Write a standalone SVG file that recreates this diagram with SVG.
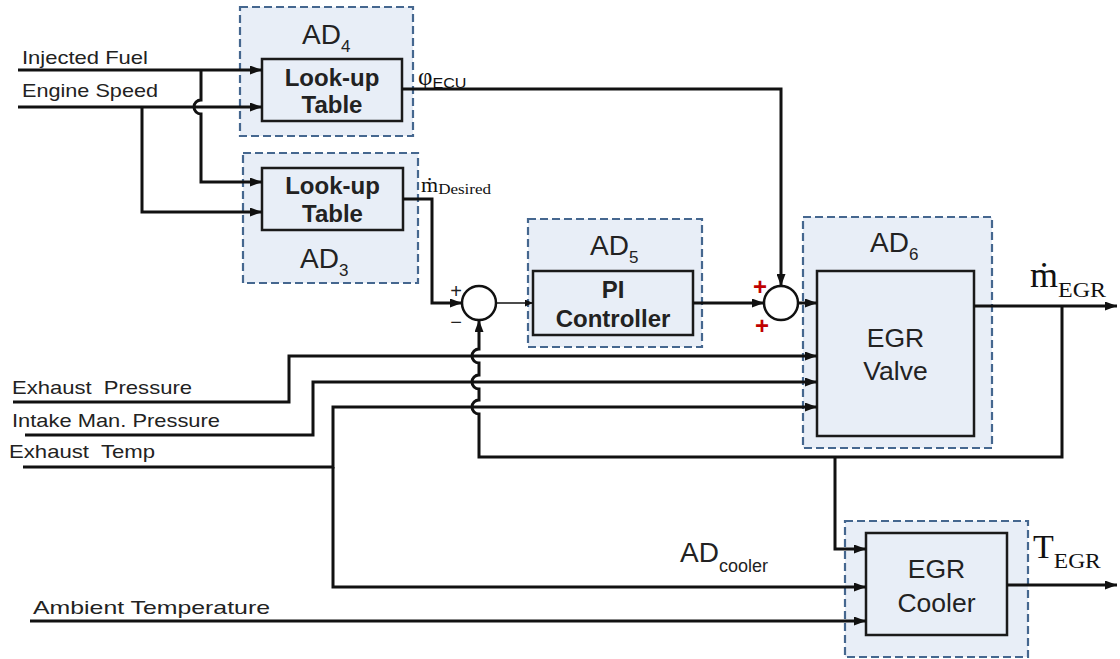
<svg xmlns="http://www.w3.org/2000/svg" width="1120" height="659" viewBox="0 0 1120 659">
<defs>
<marker id="arr" markerWidth="12" markerHeight="9" refX="12" refY="4.5" orient="auto" markerUnits="userSpaceOnUse"><path d="M0,0 L12,4.5 L0,9 z" fill="#111"/></marker>
<marker id="arrs" markerWidth="8" markerHeight="7" refX="8" refY="3.5" orient="auto" markerUnits="userSpaceOnUse"><path d="M0,0 L8,3.5 L0,7 z" fill="#111"/></marker>
</defs>
<style>
.grp{fill:#e8eef7;stroke:#45678f;stroke-width:2.2;stroke-dasharray:8 4}
.blk{fill:#e8eef7;stroke:#1a1a1a;stroke-width:2.5}
.sum{fill:#fff;stroke:#111;stroke-width:2.5}
.w{fill:none;stroke:#111;stroke-width:3;marker-end:url(#arr)}
.thin{fill:none;stroke:#111;stroke-width:1.6;marker-end:url(#arrs)}
.lbl{font-family:"Liberation Sans",Arial,sans-serif;font-size:19px;fill:#222}
.bold{font-family:"Liberation Sans",Arial,sans-serif;font-size:24px;font-weight:bold;fill:#222;text-anchor:middle}
.big{font-family:"Liberation Sans",Arial,sans-serif;font-size:26.5px;fill:#222;text-anchor:middle}
.ad{font-family:"Liberation Sans",Arial,sans-serif;font-size:28px;fill:#222}
.sub{font-size:17px}
.ser{font-family:"Liberation Serif","DejaVu Serif",serif;fill:#111}
.sans{font-family:"Liberation Sans",Arial,sans-serif;fill:#111}
.sign{font-family:"Liberation Sans",Arial,sans-serif;font-size:20px;fill:#222;text-anchor:middle}
.red{font-family:"Liberation Sans",Arial,sans-serif;font-size:24px;font-weight:bold;fill:#c00000;text-anchor:middle}
</style>

<g id="inputs">
<text class="lbl" x="22" y="64" textLength="126" lengthAdjust="spacingAndGlyphs">Injected Fuel</text>
<text class="lbl" x="22" y="97" textLength="136" lengthAdjust="spacingAndGlyphs">Engine Speed</text>
<text class="lbl" x="12" y="394" textLength="180" lengthAdjust="spacingAndGlyphs" xml:space="preserve">Exhaust  Pressure</text>
<text class="lbl" x="12" y="427" textLength="208" lengthAdjust="spacingAndGlyphs">Intake Man. Pressure</text>
<text class="lbl" x="9" y="458" textLength="146" lengthAdjust="spacingAndGlyphs" xml:space="preserve">Exhaust  Temp</text>
<text class="lbl" x="33" y="614" textLength="237" lengthAdjust="spacingAndGlyphs">Ambient Temperature</text>
</g>

<g id="ad4">
<rect class="grp" x="240" y="7" width="173" height="129"/>
<text class="ad" x="302" y="44">AD<tspan class="sub" y="52">4</tspan></text>
<rect class="blk" x="262" y="59" width="140" height="62"/>
<text class="bold" x="332" y="86">Look-up</text>
<text class="bold" x="332" y="113">Table</text>
</g>

<g id="ad3">
<rect class="grp" x="243" y="153" width="175" height="130"/>
<rect class="blk" x="262" y="168" width="141" height="62"/>
<text class="bold" x="332.5" y="194">Look-up</text>
<text class="bold" x="332.5" y="222">Table</text>
<text class="ad" x="300" y="268">AD<tspan class="sub" y="276">3</tspan></text>
</g>

<g id="sum1">
<circle class="sum" cx="479" cy="303" r="17"/>
<text class="sign" x="456" y="298">+</text>
<text class="sign" x="456" y="329">−</text>
</g>

<g id="ad5">
<rect class="grp" x="528" y="219" width="174" height="128"/>
<text class="ad" x="590" y="255">AD<tspan class="sub" y="263">5</tspan></text>
<rect class="blk" x="533" y="271" width="160" height="64"/>
<text class="bold" x="613" y="298">PI</text>
<text class="bold" x="613" y="327">Controller</text>
</g>

<g id="sum2">
<circle class="sum" cx="781" cy="303" r="17"/>
<text class="red" x="760" y="295">+</text>
<text class="red" x="762" y="334">+</text>
</g>

<g id="ad6">
<rect class="grp" x="803" y="217" width="189" height="231"/>
<text class="ad" x="870" y="252">AD<tspan class="sub" y="260">6</tspan></text>
<rect class="blk" x="817" y="271" width="157" height="165"/>
<text class="big" x="895.5" y="347">EGR</text>
<text class="big" x="895.5" y="380">Valve</text>
</g>

<g id="cooler">
<rect class="grp" x="845" y="521" width="183" height="136"/>
<rect class="blk" x="866" y="533" width="141" height="102"/>
<text class="big" x="936.5" y="578">EGR</text>
<text class="big" x="936.5" y="612">Cooler</text>
<text class="ad" x="680" y="562">AD<tspan class="sub" style="font-size:18px" y="572">cooler</tspan></text>
</g>

<g id="signals">
<text x="418" y="85"><tspan class="ser" font-size="25">φ</tspan><tspan class="sans" font-size="14" y="88" textLength="34" lengthAdjust="spacingAndGlyphs">ECU</tspan></text>
<text x="421" y="192"><tspan class="ser" font-size="22">ṁ</tspan><tspan class="ser" font-size="14" y="194" textLength="53" lengthAdjust="spacingAndGlyphs">Desired</tspan></text>
<text x="1030" y="287"><tspan class="ser" font-size="36">ṁ</tspan><tspan class="ser" font-size="22" y="297" textLength="48" lengthAdjust="spacingAndGlyphs">EGR</tspan></text>
<text x="1033" y="558"><tspan class="ser" font-size="34">T</tspan><tspan class="ser" font-size="22" y="568" textLength="47" lengthAdjust="spacingAndGlyphs">EGR</tspan></text>
</g>

<g id="connectors">
<path class="w" d="M18,70 H262"/>
<path class="w" d="M201,70 V100 a7,7 0 0 0 0,14 V182 H262"/>
<path class="w" d="M18,107 H262"/>
<path class="w" d="M142,107 V212 H262"/>
<path class="w" d="M402,89 H781 V286"/>
<path class="w" d="M403,199 H432 V303 H462"/>
<path class="thin" d="M496,303 H533"/>
<path class="w" d="M693,303 H764"/>
<path class="w" d="M798,303 H817"/>
<path class="w" d="M974,306 H1117"/>
<path class="w" d="M1062,306 V457 H479 V414 a7,7 0 0 1 0,-14 V389 a7,7 0 0 1 0,-14 V363 a7,7 0 0 1 0,-14 V320"/>
<path class="w" d="M835,457 V549 H866"/>
<path class="w" d="M13,402 H289 V356 H817"/>
<path class="w" d="M25,435 H313 V382 H817"/>
<path class="w" d="M23,467 H333 V407 H817"/>
<path class="w" d="M333,467 V587 H866"/>
<path class="w" d="M30,621 H866"/>
<path class="w" d="M1007,585 H1117"/>
</g>
</svg>
